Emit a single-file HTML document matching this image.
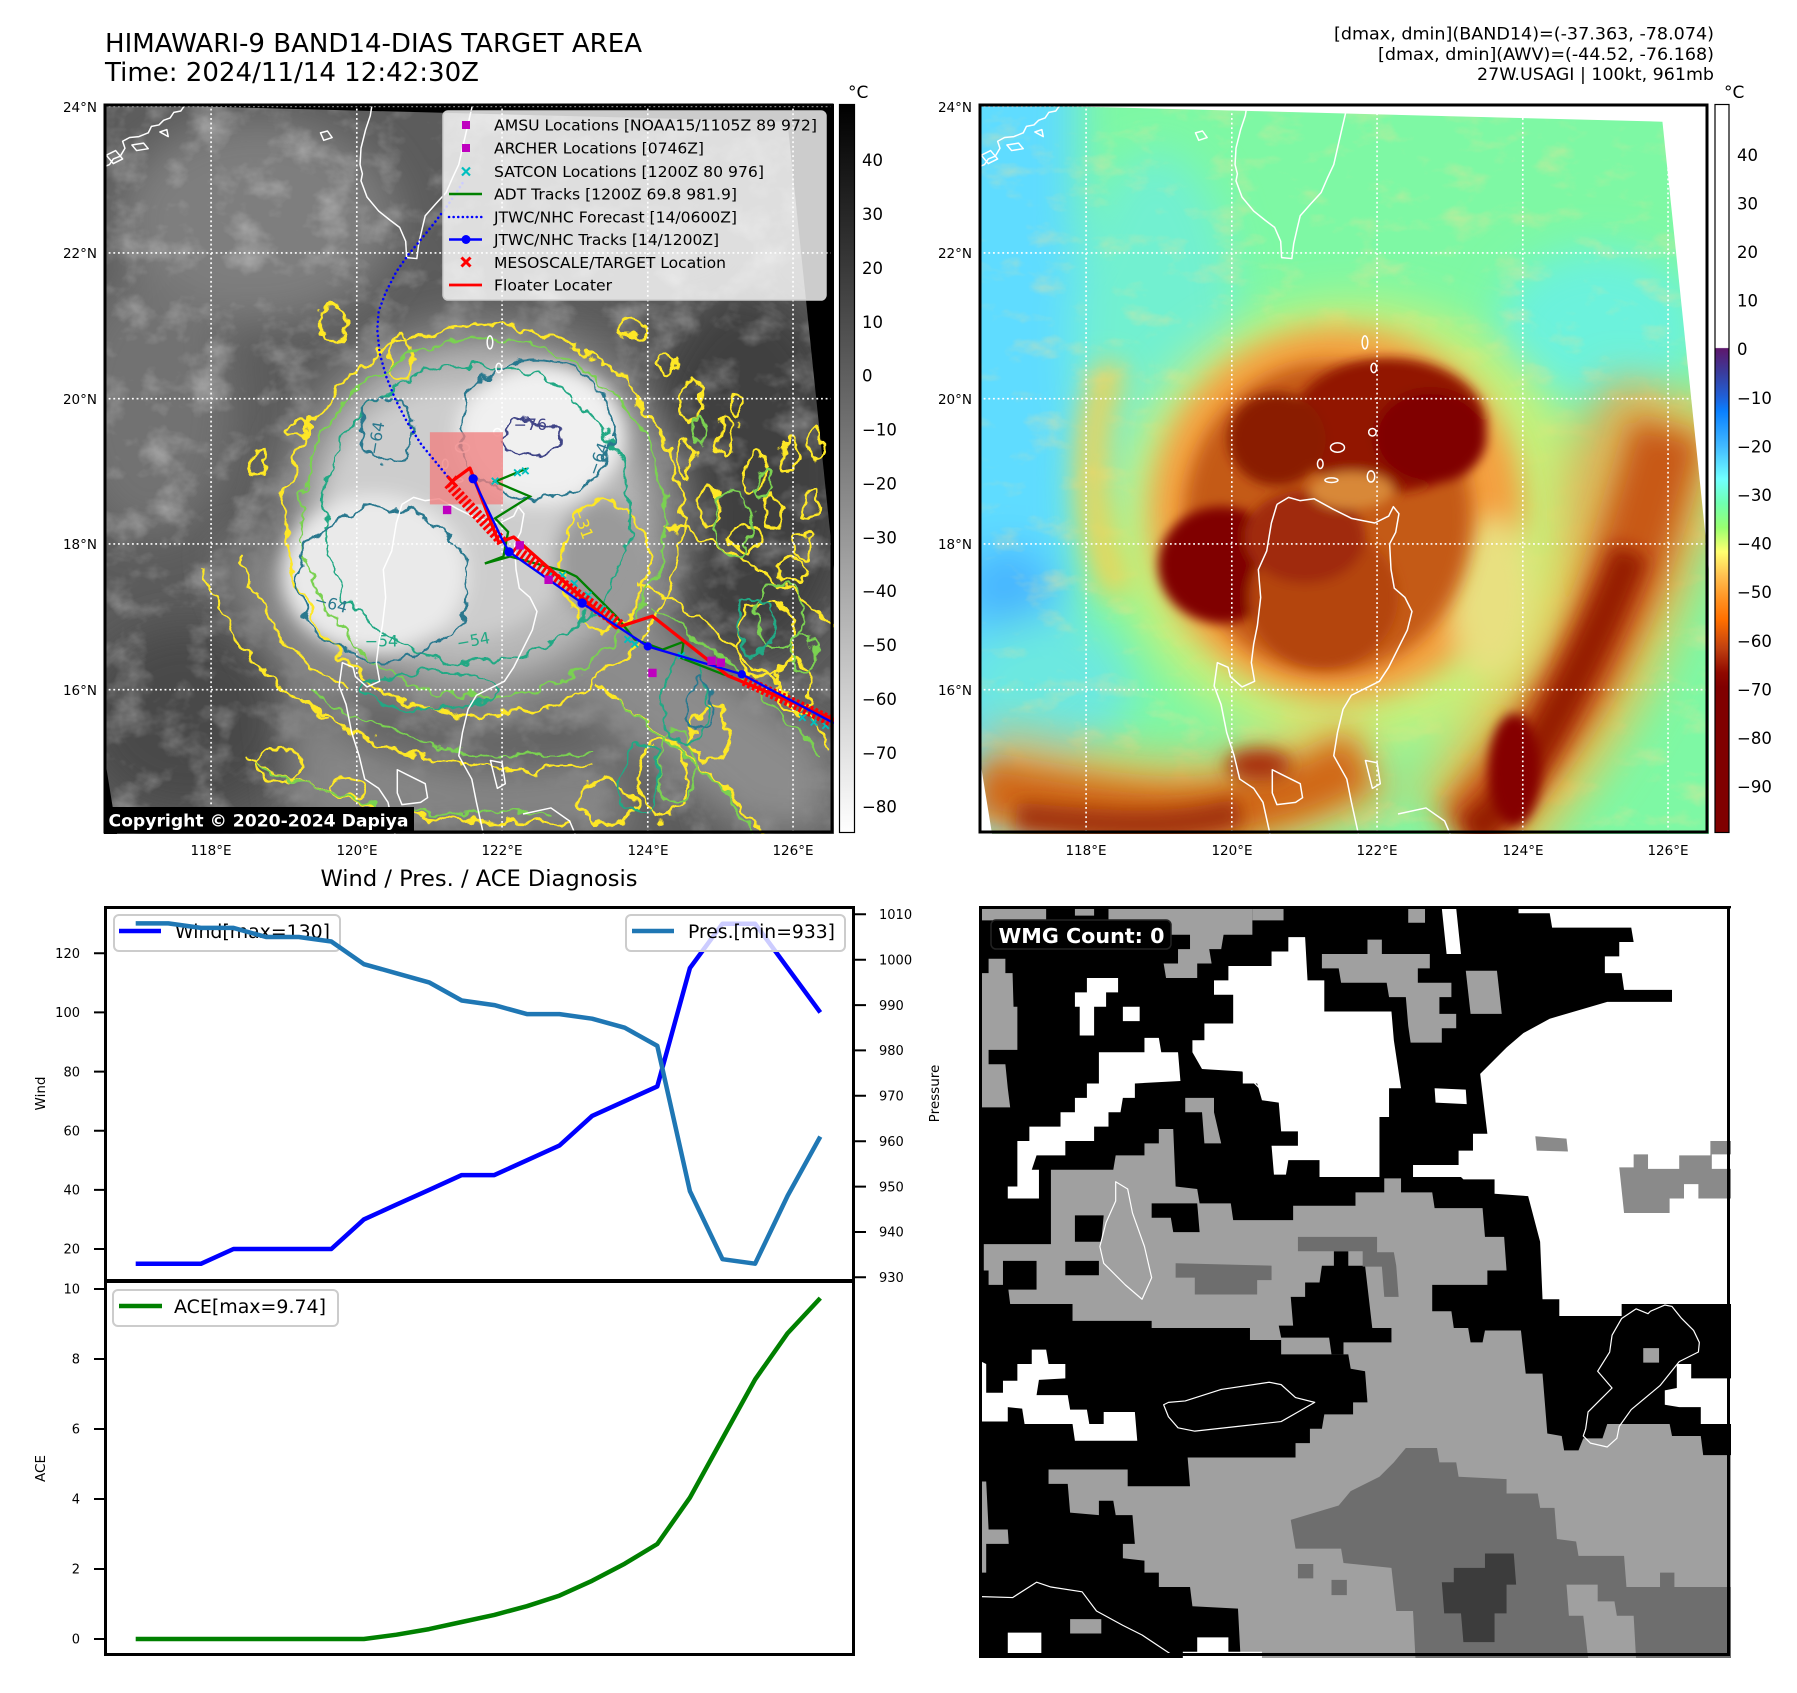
<!DOCTYPE html>
<html><head><meta charset="utf-8">
<style>
html,body{margin:0;padding:0;background:#fff;}
svg{display:block;}
text{font-family:"DejaVu Sans","Liberation Sans",sans-serif;}
</style></head><body>
<svg width="1797" height="1693" viewBox="0 0 1797 1693" xmlns="http://www.w3.org/2000/svg">
<defs>
 <filter id="b12" x="-50%" y="-50%" width="200%" height="200%"><feGaussianBlur stdDeviation="12"/></filter>
 <filter id="b20" x="-50%" y="-50%" width="200%" height="200%"><feGaussianBlur stdDeviation="20"/></filter>
 <filter id="b30" x="-50%" y="-50%" width="200%" height="200%"><feGaussianBlur stdDeviation="30"/></filter>
 <filter id="b45" x="-50%" y="-50%" width="200%" height="200%"><feGaussianBlur stdDeviation="45"/></filter>
 <filter id="wig" filterUnits="userSpaceOnUse" x="-100" y="-100" width="1768" height="1768">
  <feTurbulence type="fractalNoise" baseFrequency="0.022" numOctaves="3" seed="4" result="n"/>
  <feDisplacementMap in="SourceGraphic" in2="n" scale="46" xChannelSelector="R" yChannelSelector="G"/>
 </filter>
 <filter id="tex" filterUnits="userSpaceOnUse" x="0" y="0" width="1568" height="1568">
  <feTurbulence type="fractalNoise" baseFrequency="0.011 0.014" numOctaves="4" seed="17"/>
  <feColorMatrix type="matrix" values="0 0 0 0 1  0 0 0 0 1  0 0 0 0 1  2.4 0 0 0 -1.15"/>
 </filter>
 <filter id="tex2" filterUnits="userSpaceOnUse" x="0" y="0" width="1568" height="1568">
  <feTurbulence type="fractalNoise" baseFrequency="0.01 0.018" numOctaves="4" seed="23"/>
  <feColorMatrix type="matrix" values="0 0 0 0 0.95  0 0 0 0 0.75  0 0 0 0 0.3  2.6 0 0 0 -1.4"/>
 </filter>
 <linearGradient id="cbTL" x1="0" y1="0" x2="0" y2="1">
  <stop offset="0" stop-color="#000"/><stop offset="1" stop-color="#fff"/>
 </linearGradient>
 <linearGradient id="cbTR" x1="0" y1="0" x2="0" y2="1">
  <stop offset="0" stop-color="#ffffff"/>
  <stop offset="0.334" stop-color="#ffffff"/>
  <stop offset="0.3351" stop-color="#5e176c"/>
  <stop offset="0.3684" stop-color="#3a3c9c"/>
  <stop offset="0.4016" stop-color="#2060d8"/>
  <stop offset="0.4215" stop-color="#0a80ff"/>
  <stop offset="0.4681" stop-color="#40b8ff"/>
  <stop offset="0.5146" stop-color="#70ffff"/>
  <stop offset="0.5479" stop-color="#70ffb0"/>
  <stop offset="0.5811" stop-color="#98ff70"/>
  <stop offset="0.6144" stop-color="#ffff70"/>
  <stop offset="0.6476" stop-color="#ffc050"/>
  <stop offset="0.6809" stop-color="#ff9020"/>
  <stop offset="0.7074" stop-color="#ff7000"/>
  <stop offset="0.7473" stop-color="#c04010"/>
  <stop offset="0.7806" stop-color="#900800"/>
  <stop offset="0.8005" stop-color="#800000"/>
  <stop offset="1" stop-color="#800000"/>
 </linearGradient>
 <g id="coast" fill="none" stroke="#fff" stroke-width="3.2" stroke-linejoin="round">
  <path d="M576,0 L572,25 L562,55 L552,95 L550,130 L555,150 L552,165 L565,200 L590,230 L615,250 L635,265 L648,295 L650,330 L672,332 L676,300 L684,265 L690,240 L712,215 L735,190 L748,160 L762,130 L770,95 L778,60 L785,30 L792,0"/>
  <path d="M0,135 L12,130 L20,118 L35,112 L45,95 L40,80 L55,72 L75,70 L95,62 L102,48 L118,45 L128,35 L142,30 L150,18 L165,15 L172,5 L178,0"/>
  <path d="M5,110 L25,100 L40,118 L20,128 Z M60,88 L85,84 L95,96 L70,100 Z M465,62 L480,58 L490,72 L472,78 Z M120,60 L135,55 L138,70 Z"/>
  <path d="M640,860 L665,845 L690,852 L720,848 L760,870 L800,890 L850,900 L880,885 L890,865 L902,880 L895,920 L882,945 L885,1000 L892,1040 L915,1060 L930,1090 L920,1130 L900,1170 L880,1210 L860,1240 L830,1255 L800,1270 L782,1300 L770,1350 L762,1400 L790,1450 L800,1500 L815,1568"/>
  <path d="M640,860 L628,900 L618,960 L600,1000 L605,1060 L598,1120 L590,1160 L585,1200 L592,1240 L565,1252 L540,1230 L535,1210 L512,1200 L505,1250 L520,1290 L532,1350 L548,1400 L560,1450 L590,1470 L610,1500 L625,1568"/>
  <path d="M630,1430 L650,1440 L690,1460 L695,1490 L680,1500 L640,1505 L630,1480 Z M830,1410 L855,1415 L862,1460 L845,1470 Z M900,1525 L960,1512 L1000,1540 L1012,1568"/>
  <ellipse cx="829" cy="512" rx="6" ry="14"/><ellipse cx="848" cy="567" rx="6" ry="10"/>
  <ellipse cx="845" cy="705" rx="8" ry="8"/><ellipse cx="770" cy="738" rx="15" ry="10"/>
  <ellipse cx="733" cy="773" rx="6" ry="10"/><ellipse cx="757" cy="808" rx="14" ry="5"/>
  <ellipse cx="842" cy="800" rx="8" ry="12"/>
 </g>
 <g id="grid" fill="none" stroke="#fff" stroke-width="3.5" stroke-dasharray="4 6">
  <path d="M230,0 V1568 M543,0 V1568 M855,0 V1568 M1168,0 V1568 M1480,0 V1568 M0,5 H1568 M0,320 H1568 M0,633 H1568 M0,945 H1568 M0,1258 H1568"/>
 </g>
 <path id="cx" d="M-7,-7 L7,7 M-7,7 L7,-7" stroke="#00bfbf" stroke-width="4" fill="none"/>
</defs>

<!-- TITLES -->
<text x="105" y="52" font-size="25.8" textLength="537" lengthAdjust="spacingAndGlyphs">HIMAWARI-9 BAND14-DIAS TARGET AREA</text>
<text x="105" y="81" font-size="25.8" textLength="374" lengthAdjust="spacingAndGlyphs">Time: 2024/11/14 12:42:30Z</text>
<text x="1714" y="39.5" font-size="17" text-anchor="end" textLength="380" lengthAdjust="spacingAndGlyphs">[dmax, dmin](BAND14)=(-37.363, -78.074)</text>
<text x="1714" y="60" font-size="17" text-anchor="end" textLength="336" lengthAdjust="spacingAndGlyphs">[dmax, dmin](AWV)=(-44.52, -76.168)</text>
<text x="1714" y="80" font-size="17" text-anchor="end" textLength="237" lengthAdjust="spacingAndGlyphs">27W.USAGI | 100kt, 961mb</text>

<!-- ============ TL MAP ============ -->
<svg x="104" y="104" width="730" height="730" viewBox="0 0 1568 1568" preserveAspectRatio="none">
 <rect width="1568" height="1568" fill="#5c5c5c"/>
 <g filter="url(#b45)">
  <ellipse cx="330" cy="250" rx="300" ry="220" fill="#7e7e7e"/>
  <ellipse cx="100" cy="650" rx="180" ry="280" fill="#727272"/>
  <ellipse cx="1380" cy="800" rx="230" ry="400" fill="#404040"/>
  <ellipse cx="180" cy="1320" rx="230" ry="200" fill="#4a4a4a"/>
  <ellipse cx="1100" cy="250" rx="330" ry="180" fill="#5a5a5a"/>
  <ellipse cx="1450" cy="1460" rx="150" ry="150" fill="#555"/>
 </g>
 <rect width="1568" height="1568" filter="url(#tex)" opacity="0.32"/>
 <g filter="url(#b45)">
  <ellipse cx="815" cy="895" rx="440" ry="430" fill="#8f8f8f"/>
  <path d="M1100,1050 L1568,1380 L1568,1568 L1380,1568 L980,1260 Z" fill="#8c8c8c"/>
  <path d="M380,1260 C600,1430 850,1450 1080,1400 L1150,1568 L420,1568 Z" fill="#868686"/>
  <path d="M250,950 C300,1150 420,1280 520,1320 L560,1200 C450,1150 380,1050 360,950 Z" fill="#888"/>
 </g>
 <g filter="url(#b30)">
  <ellipse cx="800" cy="880" rx="360" ry="350" fill="#b8b8b8"/>
 </g>
 <g filter="url(#b20)">
  <ellipse cx="760" cy="880" rx="280" ry="270" fill="#cdcdcd"/>
  <ellipse cx="940" cy="710" rx="180" ry="150" fill="#f0f0f0"/>
  <ellipse cx="580" cy="1010" rx="200" ry="170" fill="#eaeaea"/>
  <ellipse cx="1070" cy="980" rx="100" ry="130" fill="#9a9a9a"/>
 </g>
 <path d="M0,0 L1568,0 L1568,1000 L1468,38 Z M0,1395 L28,1568 L0,1568 Z" fill="#000"/>
 <!-- contours -->
 <g filter="url(#wig)" fill="none" stroke-linejoin="round">
  <g stroke="#fde725" stroke-width="6">
   <ellipse cx="815" cy="895" rx="425" ry="420"/>
   <ellipse cx="1075" cy="990" rx="95" ry="135"/>
   <path d="M1150,1030 C1300,1100 1450,1250 1568,1380"/>
   <path d="M1060,1250 C1200,1350 1320,1450 1420,1568"/>
   <path d="M1200,900 C1350,950 1480,1050 1568,1120"/>
   <path d="M420,1280 C600,1420 850,1450 1050,1420"/>
   <path d="M300,1400 C500,1520 800,1560 1000,1540"/>
   <path d="M290,980 C330,1100 420,1200 520,1260"/>
   <path d="M210,1000 C260,1150 380,1260 480,1330"/>
   <ellipse cx="490" cy="470" rx="30" ry="40"/><ellipse cx="640" cy="540" rx="25" ry="50"/>
   <ellipse cx="420" cy="700" rx="25" ry="18"/><ellipse cx="1130" cy="480" rx="30" ry="20"/>
   <ellipse cx="1260" cy="640" rx="18" ry="50"/><ellipse cx="1330" cy="720" rx="16" ry="45"/>
   <ellipse cx="1400" cy="790" rx="18" ry="50"/><ellipse cx="1470" cy="760" rx="16" ry="40"/>
   <ellipse cx="1530" cy="730" rx="15" ry="35"/><ellipse cx="1300" cy="860" rx="22" ry="40"/>
   <ellipse cx="1380" cy="930" rx="30" ry="30"/><ellipse cx="1480" cy="1000" rx="30" ry="24"/>
   <ellipse cx="1250" cy="760" rx="14" ry="35"/><ellipse cx="1440" cy="880" rx="18" ry="35"/>
   <ellipse cx="1520" cy="860" rx="15" ry="30"/><ellipse cx="1360" cy="650" rx="14" ry="28"/>
   <ellipse cx="1210" cy="560" rx="16" ry="26"/><ellipse cx="1500" cy="950" rx="18" ry="22"/>
   <ellipse cx="1420" cy="1150" rx="60" ry="80"/><ellipse cx="1200" cy="1450" rx="50" ry="90"/>
   <ellipse cx="1300" cy="1350" rx="35" ry="60"/><ellipse cx="1480" cy="1250" rx="40" ry="50"/>
   <ellipse cx="380" cy="1420" rx="50" ry="35"/><ellipse cx="1080" cy="1500" rx="60" ry="50"/>
   <ellipse cx="330" cy="770" rx="18" ry="30"/><ellipse cx="520" cy="1470" rx="40" ry="22"/>
  </g>
  <g stroke="#7ad151" stroke-width="5">
   <ellipse cx="815" cy="890" rx="390" ry="385"/>
   <path d="M1170,1080 C1300,1150 1430,1280 1540,1400"/>
   <path d="M1100,1280 C1220,1370 1330,1460 1400,1568"/>
   <path d="M440,1250 C620,1390 850,1420 1040,1390"/>
   <path d="M330,1420 C520,1520 780,1540 960,1520"/>
   <ellipse cx="1350" cy="900" rx="40" ry="70"/><ellipse cx="1450" cy="1100" rx="50" ry="70"/>
   <ellipse cx="1230" cy="1420" rx="40" ry="80"/>
   <ellipse cx="1280" cy="700" rx="12" ry="30"/><ellipse cx="1420" cy="820" rx="14" ry="34"/>
   <ellipse cx="1500" cy="1180" rx="30" ry="40"/>
  </g>
  <g stroke="#22a884" stroke-width="5">
   <ellipse cx="800" cy="880" rx="330" ry="320"/>
   <ellipse cx="1250" cy="1280" rx="45" ry="100"/><ellipse cx="1400" cy="1120" rx="40" ry="60"/>
   <ellipse cx="1150" cy="1450" rx="40" ry="80"/><ellipse cx="700" cy="1260" rx="140" ry="40"/>
  </g>
  <g stroke="#2a788e" stroke-width="5">
   <ellipse cx="930" cy="700" rx="165" ry="150"/>
   <ellipse cx="600" cy="1030" rx="185" ry="165"/>
   <ellipse cx="610" cy="700" rx="60" ry="70"/>
   <ellipse cx="1280" cy="1290" rx="25" ry="60"/>
  </g>
  <g stroke="#414487" stroke-width="5">
   <ellipse cx="915" cy="720" rx="65" ry="40"/>
  </g>
 </g>
 <g font-size="34">
  <text x="880" y="700" fill="#414487">−76</text>
  <text x="590" y="755" fill="#2a788e" transform="rotate(-80 590 755)">−64</text>
  <text x="1060" y="800" fill="#2a788e" transform="rotate(-70 1060 800)">−64</text>
  <text x="450" y="1075" fill="#2a788e" transform="rotate(15 450 1075)">−64</text>
  <text x="560" y="1165" fill="#22a884">−54</text>
  <text x="760" y="1170" fill="#22a884" transform="rotate(-10 760 1170)">−54</text>
  <text x="1005" y="870" fill="#fde725" transform="rotate(70 1005 870)">−31</text>
 </g>
 <use href="#coast"/>
 <use href="#grid"/>
 <rect x="700" y="705" width="157" height="155" fill="#f08080" opacity="0.78"/>
 <path d="M770,170 L740,215 L710,255 L680,292 L655,322 L628,360 L605,405 L590,445 L587,485 L592,535 L606,585 L626,635 L652,685 L682,732 L715,772 L742,805" fill="none" stroke="#0000ff" stroke-width="5.5" stroke-dasharray="0.1 10" stroke-linecap="round"/>
 <path d="M908,783 L840,811 L915,843 L840,890 L868,919 L858,972 L818,987 L872,972 L994,1005 L1015,1015 L1100,1100 L1140,1150 L1200,1172 L1245,1155 L1240,1190 L1330,1225 L1350,1230" fill="none" stroke="#008000" stroke-width="5"/>
 <g>
  <use href="#cx" x="905" y="788"/><use href="#cx" x="888" y="792"/><use href="#cx" x="840" y="810"/>
  <use href="#cx" x="960" y="1008"/><use href="#cx" x="985" y="1012"/><use href="#cx" x="1010" y="1030"/>
  <use href="#cx" x="1040" y="1055"/><use href="#cx" x="1070" y="1085"/><use href="#cx" x="1095" y="1110"/>
  <use href="#cx" x="1125" y="1150"/><use href="#cx" x="1140" y="1160"/><use href="#cx" x="1240" y="1185"/>
  <use href="#cx" x="1500" y="1318"/><use href="#cx" x="1525" y="1328"/><use href="#cx" x="1550" y="1335"/>
 </g>
 <g fill="none" stroke="#ff0000" stroke-width="24" stroke-dasharray="6 5">
  <path d="M740,815 L855,940"/>
  <path d="M880,955 L1110,1120"/>
  <path d="M1375,1238 L1568,1328"/>
 </g>
 <path d="M745,812 L786,782 L848,942 L880,930 L1100,1125 L1178,1100 L1340,1228 L1568,1322" fill="none" stroke="#ff0000" stroke-width="7" stroke-linejoin="round"/>
 <path d="M738,800 L758,822 M738,822 L758,800" stroke="#ff0000" stroke-width="7"/>
 <path d="M793,805 L855,935 L870,962 L1027,1072 L1168,1165 L1370,1225 L1568,1330" fill="none" stroke="#0000ff" stroke-width="5"/>
 <g fill="#0000ff">
  <circle cx="793" cy="805" r="10"/><circle cx="870" cy="962" r="10"/><circle cx="1027" cy="1072" r="10"/>
  <circle cx="1168" cy="1165" r="9"/><circle cx="1370" cy="1225" r="9"/>
 </g>
 <g fill="#bf00bf">
  <rect x="728" y="863" width="18" height="18"/><rect x="884" y="939" width="18" height="18"/>
  <rect x="946" y="1013" width="18" height="18"/><rect x="1169" y="1213" width="18" height="18"/>
  <rect x="1296" y="1187" width="18" height="18"/><rect x="1316" y="1191" width="18" height="18"/>
 </g>
</svg>
<rect x="105" y="105" width="727" height="727" fill="none" stroke="#000" stroke-width="3"/>
<!-- legend -->
<rect x="443" y="111" width="383" height="189" rx="5" fill="#fff" fill-opacity="0.8" stroke="#cccccc" stroke-width="1.5"/>
<rect x="462" y="121" width="8" height="8" fill="#bf00bf"/>
<rect x="462" y="144" width="8" height="8" fill="#bf00bf"/>
<path d="M462,167.5 L470,175.5 M462,175.5 L470,167.5" stroke="#00bfbf" stroke-width="2.2"/>
<line x1="449" y1="194" x2="482" y2="194" stroke="#008000" stroke-width="2.5"/>
<line x1="449" y1="217" x2="482" y2="217" stroke="#0000ff" stroke-width="2.5" stroke-dasharray="0.1 4.5" stroke-linecap="round"/>
<line x1="449" y1="239.5" x2="482" y2="239.5" stroke="#0000ff" stroke-width="2.5"/>
<circle cx="466" cy="239.5" r="4.5" fill="#0000ff"/>
<path d="M461.5,257.5 L470.5,266.5 M461.5,266.5 L470.5,257.5" stroke="#ff0000" stroke-width="3"/>
<line x1="449" y1="285" x2="482" y2="285" stroke="#ff0000" stroke-width="2.8"/>
<g font-size="15.3" fill="#000">
 <text x="494" y="130.5" textLength="323" lengthAdjust="spacingAndGlyphs">AMSU Locations [NOAA15/1105Z 89 972]</text>
 <text x="494" y="153.7" textLength="210" lengthAdjust="spacingAndGlyphs">ARCHER Locations [0746Z]</text>
 <text x="494" y="177" textLength="270" lengthAdjust="spacingAndGlyphs">SATCON Locations [1200Z 80 976]</text>
 <text x="494" y="199.4" textLength="243" lengthAdjust="spacingAndGlyphs">ADT Tracks [1200Z 69.8 981.9]</text>
 <text x="494" y="222.6" textLength="243" lengthAdjust="spacingAndGlyphs">JTWC/NHC Forecast [14/0600Z]</text>
 <text x="494" y="245" textLength="225" lengthAdjust="spacingAndGlyphs">JTWC/NHC Tracks [14/1200Z]</text>
 <text x="494" y="267.8" textLength="232" lengthAdjust="spacingAndGlyphs">MESOSCALE/TARGET Location</text>
 <text x="494" y="290.6" textLength="118" lengthAdjust="spacingAndGlyphs">Floater Locater</text>
</g>
<rect x="104" y="807" width="310" height="26" fill="#000"/>
<text x="108.5" y="826.5" font-size="17.2" font-weight="bold" fill="#fff" textLength="300" lengthAdjust="spacingAndGlyphs">Copyright © 2020-2024 Dapiya</text>

<!-- TL colorbar -->
<rect x="839.5" y="104.5" width="15" height="728" fill="url(#cbTL)" stroke="#000" stroke-width="1.2"/>
<text x="848" y="98" font-size="17">°C</text>
<g font-size="16.5">
 <text x="862" y="166.2">40</text><text x="862" y="220.1">30</text><text x="862" y="274">20</text>
 <text x="862" y="327.8">10</text><text x="862" y="381.7">0</text><text x="862" y="435.6">−10</text>
 <text x="862" y="489.5">−20</text><text x="862" y="543.3">−30</text><text x="862" y="597.2">−40</text>
 <text x="862" y="651.1">−50</text><text x="862" y="705">−60</text><text x="862" y="758.8">−70</text>
 <text x="862" y="812.7">−80</text>
</g>
<!-- lat/lon labels -->
<g font-size="13.5" text-anchor="end">
 <text x="97" y="112">24°N</text><text x="97" y="258">22°N</text><text x="97" y="404">20°N</text>
 <text x="97" y="549">18°N</text><text x="97" y="695">16°N</text>
 <text x="972" y="112">24°N</text><text x="972" y="258">22°N</text><text x="972" y="404">20°N</text>
 <text x="972" y="549">18°N</text><text x="972" y="695">16°N</text>
</g>
<g font-size="13.5" text-anchor="middle">
 <text x="211" y="855">118°E</text><text x="357" y="855">120°E</text><text x="502" y="855">122°E</text>
 <text x="648" y="855">124°E</text><text x="793" y="855">126°E</text>
 <text x="1086" y="855">118°E</text><text x="1232" y="855">120°E</text><text x="1377" y="855">122°E</text>
 <text x="1523" y="855">124°E</text><text x="1668" y="855">126°E</text>
</g>

<!-- ============ TR MAP ============ -->
<svg x="979" y="104" width="730" height="730" viewBox="0 0 1568 1568" preserveAspectRatio="none">
 <rect width="1568" height="1568" fill="#7ef8a4"/>
 <g filter="url(#b45)">
  <rect x="-150" y="-100" width="360" height="1700" fill="#5fdcff"/>
  <ellipse cx="380" cy="520" rx="180" ry="420" fill="#72f0d0"/>
  <ellipse cx="1330" cy="480" rx="220" ry="170" fill="#6cf2dc"/>
  <ellipse cx="60" cy="1040" rx="100" ry="90" fill="#46b4ff"/>
  <ellipse cx="150" cy="1250" rx="180" ry="150" fill="#6ce8e0"/>
 </g>
 <rect width="1568" height="1568" filter="url(#tex2)" opacity="0.4"/>
 <g filter="url(#b45)">
  <ellipse cx="800" cy="900" rx="510" ry="480" fill="#d8ee70" opacity="0.8"/>
  <path d="M1500,620 C1450,800 1400,1000 1330,1150 S1150,1450 1030,1568" fill="none" stroke="#f0c050" stroke-width="300" opacity="0.8"/>
  <path d="M0,1440 C200,1480 400,1540 560,1500 S760,1450 850,1400" fill="none" stroke="#f0b050" stroke-width="220" opacity="0.8"/>
  <ellipse cx="1400" cy="850" rx="150" ry="250" fill="#e0a050" opacity="0.6"/>
 </g>
 <g filter="url(#b30)">
  <ellipse cx="770" cy="880" rx="400" ry="400" fill="#f4a040"/>
  <path d="M1480,700 C1430,880 1390,1020 1330,1150 S1150,1450 1040,1568" fill="none" stroke="#c85818" stroke-width="150"/>
  <path d="M0,1470 C200,1500 400,1550 560,1510 S740,1450 820,1410" fill="none" stroke="#d06818" stroke-width="120"/>
  <path d="M290,560 C220,700 230,900 300,1050" fill="none" stroke="#f8d050" stroke-width="60"/>
  <ellipse cx="1100" cy="1060" rx="90" ry="170" fill="#e8e080"/>
 </g>
 <g filter="url(#b20)">
  <ellipse cx="750" cy="890" rx="310" ry="335" fill="#c45a18"/>
  <path d="M1400,960 C1340,1120 1260,1280 1190,1400 S1090,1540 1050,1568" fill="none" stroke="#951c04" stroke-width="80"/>
  <path d="M80,1530 C250,1545 400,1565 560,1520" fill="none" stroke="#a03010" stroke-width="60"/>
  <ellipse cx="600" cy="1420" rx="70" ry="35" fill="#a83010"/>
 </g>
 <g filter="url(#b12)">
  <ellipse cx="880" cy="690" rx="210" ry="145" fill="#921800"/>
  <ellipse cx="970" cy="715" rx="120" ry="100" fill="#800000"/>
  <ellipse cx="640" cy="720" rx="105" ry="100" fill="#8a1a00"/>
  <ellipse cx="520" cy="990" rx="135" ry="125" fill="#800000"/>
  <ellipse cx="740" cy="1060" rx="160" ry="150" fill="#b44410"/>
  <ellipse cx="700" cy="930" rx="130" ry="100" fill="#a02c08"/>
  <ellipse cx="800" cy="830" rx="90" ry="40" fill="#d88838"/>
  <ellipse cx="1150" cy="1430" rx="55" ry="120" fill="#850400"/>
 </g>
 <path d="M0,0 L1568,0 L1568,1000 L1468,38 Z M0,1395 L28,1568 L0,1568 Z" fill="#fff"/>
 <use href="#coast"/>
 <use href="#grid"/>
</svg>
<rect x="980" y="105" width="727" height="727" fill="none" stroke="#000" stroke-width="3"/>
<rect x="1715" y="104.5" width="14" height="728" fill="url(#cbTR)" stroke="#000" stroke-width="1.2"/>
<text x="1724" y="98" font-size="17">°C</text>
<g font-size="16.5">
 <text x="1737" y="160.8">40</text><text x="1737" y="209.4">30</text><text x="1737" y="258">20</text>
 <text x="1737" y="306.6">10</text><text x="1737" y="355.2">0</text><text x="1737" y="403.8">−10</text>
 <text x="1737" y="452.4">−20</text><text x="1737" y="501">−30</text><text x="1737" y="549.6">−40</text>
 <text x="1737" y="598.2">−50</text><text x="1737" y="646.8">−60</text><text x="1737" y="695.4">−70</text>
 <text x="1737" y="744">−80</text><text x="1737" y="792.6">−90</text>
</g>

<!-- ============ CHART ============ -->
<text x="479" y="886" font-size="22.4" text-anchor="middle" textLength="317" lengthAdjust="spacingAndGlyphs">Wind / Pres. / ACE Diagnosis</text>
<polyline fill="none" stroke="#0000ff" stroke-width="4.5" stroke-linejoin="round" points="135.7,1263.8 168.3,1263.8 200.9,1263.8 233.5,1249 266.1,1249 298.7,1249 331.3,1249 363.9,1219.4 396.5,1204.6 429.1,1189.9 461.7,1175.1 494.3,1175.1 526.9,1160.3 559.5,1145.5 592.1,1115.9 624.7,1101.2 657.3,1086.4 689.9,968.1 722.5,923.7 755.1,923.7 787.7,968.1 820.3,1012.4"/>
<rect x="114" y="915" width="226" height="36" rx="5" fill="#fff" fill-opacity="0.8" stroke="#cccccc" stroke-width="2"/>
<line x1="119" y1="931" x2="161" y2="931" stroke="#0000ff" stroke-width="4.5"/>
<text x="175" y="938" font-size="18.5" textLength="155" lengthAdjust="spacingAndGlyphs">Wind[max=130]</text>
<polyline fill="none" stroke="#1f77b4" stroke-width="4.5" stroke-linejoin="round" points="135.7,923.4 168.3,923.4 200.9,927.9 233.5,927.9 266.1,937 298.7,937 331.3,941.5 363.9,964.2 396.5,973.3 429.1,982.4 461.7,1000.5 494.3,1005.1 526.9,1014.1 559.5,1014.1 592.1,1018.7 624.7,1027.7 657.3,1045.9 689.9,1191.1 722.5,1259.2 755.1,1263.7 787.7,1195.6 820.3,1136.6"/>
<rect x="626" y="915" width="219" height="36" rx="5" fill="#fff" fill-opacity="0.8" stroke="#cccccc" stroke-width="2"/>
<line x1="632" y1="931" x2="674" y2="931" stroke="#1f77b4" stroke-width="4.5"/>
<text x="688" y="938" font-size="18.5" textLength="147" lengthAdjust="spacingAndGlyphs">Pres.[min=933]</text>
<polyline fill="none" stroke="#008000" stroke-width="4.5" stroke-linejoin="round" points="135.7,1639 168.3,1639 200.9,1639 233.5,1639 266.1,1639 298.7,1639 331.3,1639 363.9,1639 396.5,1634.7 429.1,1629.1 461.7,1622 494.3,1614.9 526.9,1606.2 559.5,1595.6 592.1,1580.8 624.7,1563.7 657.3,1544 689.9,1497.7 722.5,1438.5 755.1,1379.4 787.7,1333.1 820.3,1298.1"/>
<rect x="113" y="1290" width="225" height="36" rx="5" fill="#fff" fill-opacity="0.8" stroke="#cccccc" stroke-width="2"/>
<line x1="119" y1="1306" x2="162" y2="1306" stroke="#008000" stroke-width="4.5"/>
<text x="174" y="1313" font-size="18.5" textLength="152" lengthAdjust="spacingAndGlyphs">ACE[max=9.74]</text>
<rect x="105.5" y="907.5" width="748" height="373" fill="none" stroke="#000" stroke-width="3"/>
<rect x="105.5" y="1281.5" width="748" height="373" fill="none" stroke="#000" stroke-width="3"/>
<g stroke="#000" stroke-width="2">
 <path d="M94,1249 H104 M94,1189.9 H104 M94,1130.7 H104 M94,1071.6 H104 M94,1012.4 H104 M94,953.3 H104"/>
 <path d="M94,1639 H104 M94,1569 H104 M94,1499 H104 M94,1429 H104 M94,1359 H104 M94,1289 H104"/>
 <path d="M855,914.3 H866 M855,959.7 H866 M855,1005.1 H866 M855,1050.4 H866 M855,1095.8 H866 M855,1141.2 H866 M855,1186.6 H866 M855,1232 H866 M855,1277.3 H866"/>
</g>
<g font-size="13" text-anchor="end">
 <text x="80" y="1253.7">20</text><text x="80" y="1194.6">40</text><text x="80" y="1135.4">60</text>
 <text x="80" y="1076.3">80</text><text x="80" y="1017.1">100</text><text x="80" y="958">120</text>
 <text x="80" y="1643.7">0</text><text x="80" y="1573.7">2</text><text x="80" y="1503.7">4</text>
 <text x="80" y="1433.7">6</text><text x="80" y="1363.7">8</text><text x="80" y="1293.7">10</text>
</g>
<g font-size="13">
 <text x="879" y="919">1010</text><text x="879" y="964.4">1000</text><text x="879" y="1009.8">990</text>
 <text x="879" y="1055.1">980</text><text x="879" y="1100.5">970</text><text x="879" y="1145.9">960</text>
 <text x="879" y="1191.3">950</text><text x="879" y="1236.7">940</text><text x="879" y="1282">930</text>
</g>
<g font-size="13.5" text-anchor="middle">
 <text transform="translate(45 1093.5) rotate(-90)">Wind</text>
 <text transform="translate(45 1468.5) rotate(-90)">ACE</text>
 <text transform="translate(939 1093.5) rotate(-90)">Pressure</text>
</g>

<!-- ============ WMG ============ -->
<svg x="979" y="906" width="752" height="752" viewBox="0 0 1568 1568" preserveAspectRatio="none">
 <rect width="1568" height="1568" fill="#000"/>
 <g fill="#a0a0a0">
  <path d="M0,0 L140,0 L140,30 L0,30 Z"/>
  <path d="M5,140 L20,140 L20,110 L55,110 L55,140 L70,140 L72,210 L80,210 L80,300 L20,300 L20,330 L55,330 L60,380 L65,420 L5,420 Z"/>
  <path d="M200,5 L240,5 L240,20 L200,20 Z M570,5 L635,5 L635,30 L570,30 Z M895,5 L930,5 L930,35 L895,35 Z"/>
  <path d="M270,5 L570,5 L570,60 L510,60 L505,90 L480,90 L485,120 L455,120 L455,150 L390,150 L385,120 L415,120 L415,90 L440,90 L440,60 L270,60 Z"/>
  <path d="M715,100 L810,100 L810,70 L840,70 L840,100 L940,100 L940,130 L915,130 L915,160 L985,160 L985,190 L960,190 L960,225 L995,225 L995,255 L965,255 L965,285 L900,285 L895,250 L890,190 L855,190 L850,160 L755,160 L750,130 L715,130 Z"/>
  <path d="M1015,135 L1080,135 L1090,225 L1025,225 Z"/>
  <path d="M430,400 L490,400 L490,430 L505,495 L470,495 L465,430 L430,430 Z"/>
  <path d="M10,705 L150,705 L150,550 L280,550 L285,520 L345,520 L345,495 L375,495 L375,465 L405,465 L410,585 L455,590 L460,620 L525,620 L530,655 L655,655 L655,625 L785,625 L785,597 L845,597 L845,568 L880,568 L880,597 L945,597 L950,630 L1050,630 L1055,690 L1095,690 L1100,760 L1060,760 L1060,790 L945,790 L945,845 L985,845 L990,880 L1020,880 L1025,910 L1050,910 L1055,885 L1130,885 L1140,975 L1175,975 L1185,1100 L1215,1105 L1220,1135 L1250,1135 L1260,1110 L1300,1110 L1310,1080 L1440,1080 L1445,1105 L1505,1105 L1510,1145 L1568,1145 L1568,1568 L590,1568 L545,1560 L540,1465 L445,1460 L440,1420 L375,1420 L375,1390 L345,1390 L345,1365 L300,1360 L300,1330 L325,1330 L320,1270 L285,1270 L280,1240 L250,1240 L250,1270 L190,1265 L185,1205 L145,1205 L145,1175 L310,1175 L310,1210 L440,1210 L435,1150 L660,1150 L660,1120 L690,1120 L690,1090 L715,1090 L720,1060 L780,1060 L780,1035 L810,1035 L805,970 L775,965 L770,935 L630,935 L630,905 L565,905 L565,880 L360,880 L360,865 L195,865 L195,830 L65,830 L60,790 L20,790 L20,760 L10,760 Z"/>
  <path d="M0,1200 L15,1200 L20,1300 L60,1300 L62,1330 L15,1330 L15,1390 L0,1390 Z M190,1487 L255,1487 L255,1517 L190,1517 Z M1385,922 L1418,922 L1418,952 L1385,952 Z"/>
 </g>
 <g fill="#000">
  <path d="M50,740 L120,740 L120,800 L50,800 Z M180,740 L250,740 L250,770 L180,770 Z M200,645 L260,645 L255,700 L200,700 Z"/>
  <path d="M360,620 L455,620 L460,680 L405,680 L400,650 L360,650 Z"/>
  <path d="M740,720 L770,720 L770,750 L805,750 L820,880 L860,880 L860,910 L760,910 L760,935 L735,935 L730,900 L630,900 L625,875 L655,875 L650,815 L680,815 L680,785 L710,785 L715,750 L740,750 Z"/>
 </g>
 <g fill="#6e6e6e">
  <path d="M665,690 L830,690 L830,722 L865,722 L870,750 L875,815 L845,815 L840,752 L800,752 L800,720 L665,720 Z"/>
  <path d="M410,745 L610,750 L610,780 L580,780 L580,810 L450,810 L450,775 L410,775 Z"/>
  <path d="M650,1280 L750,1250 L775,1220 L835,1190 L865,1160 L890,1130 L955,1130 L960,1160 L995,1160 L1000,1190 L1100,1195 L1100,1225 L1165,1225 L1170,1255 L1200,1255 L1205,1320 L1245,1325 L1250,1355 L1345,1355 L1350,1420 L1420,1420 L1420,1390 L1450,1390 L1450,1420 L1568,1420 L1568,1568 L1370,1568 L1365,1480 L1330,1480 L1325,1450 L1290,1450 L1290,1415 L1225,1415 L1230,1480 L1260,1480 L1270,1568 L910,1568 L905,1470 L870,1470 L860,1380 L760,1370 L755,1340 L660,1340 Z"/>
  <path d="M665,1372 L697,1372 L697,1402 L665,1402 Z M735,1405 L767,1405 L767,1437 L735,1437 Z"/>
 </g>
 <path fill="#3c3c3c" d="M990,1380 L1055,1380 L1055,1350 L1115,1350 L1120,1415 L1100,1415 L1100,1475 L1075,1475 L1075,1535 L1010,1535 L1005,1475 L970,1475 L965,1410 L990,1410 Z"/>
 <g fill="#fff">
  <path d="M490,155 L520,155 L520,125 L610,125 L610,95 L645,95 L645,65 L680,65 L685,155 L720,155 L720,220 L860,220 L865,280 L880,380 L855,380 L855,440 L835,440 L835,565 L710,565 L710,530 L645,530 L640,560 L615,560 L610,500 L665,500 L665,470 L630,470 L625,410 L590,405 L580,370 L550,370 L550,345 L465,340 L445,305 L445,280 L470,280 L470,245 L530,245 L530,185 L490,185 Z"/>
  <path d="M1125,5 L1568,5 L1568,830 L1340,830 L1340,855 L1210,855 L1210,820 L1175,820 L1170,700 L1145,605 L1075,600 L1075,570 L1010,570 L1005,565 L905,565 L905,540 L1000,540 L1000,510 L1030,510 L1030,475 L1060,475 L1045,350 L1075,320 L1100,295 L1135,265 L1190,235 L1310,200 L1445,200 L1445,175 L1345,175 L1340,140 L1305,140 L1305,105 L1335,105 L1335,75 L1365,75 L1360,45 L1195,45 L1190,15 L1125,15 Z"/>
  <path d="M60,585 L80,585 L80,490 L105,490 L105,460 L170,460 L170,430 L200,430 L200,400 L225,400 L225,370 L250,370 L250,305 L345,305 L345,275 L375,275 L380,305 L415,305 L420,365 L325,370 L325,400 L300,400 L295,430 L270,430 L270,460 L240,460 L240,490 L180,490 L180,520 L120,520 L110,550 L125,550 L125,610 L60,610 Z"/>
  <path d="M225,150 L290,150 L290,180 L265,180 L265,210 L240,210 L240,270 L210,270 L210,210 L200,210 L200,180 L225,180 Z"/>
  <path d="M300,210 L335,210 L335,240 L300,240 Z M965,5 L995,5 L1005,100 L975,100 Z M950,380 L1015,383 L1017,413 L952,410 Z"/>
  <path d="M5,950 L15,955 L15,1015 L50,1015 L50,990 L80,990 L80,955 L110,955 L110,925 L140,925 L145,955 L180,955 L180,985 L125,988 L120,1020 L185,1020 L190,1050 L225,1050 L230,1080 L260,1080 L260,1055 L325,1055 L330,1115 L200,1115 L195,1080 L95,1080 L90,1048 L60,1045 L60,1075 L5,1075 Z"/>
  <path d="M1455,955 L1485,955 L1485,985 L1568,985 L1568,1080 L1505,1080 L1505,1045 L1460,1045 L1430,1040 L1430,1010 L1455,1005 Z"/>
  <path d="M60,1515 L130,1515 L130,1560 L60,1560 Z M455,1525 L520,1525 L520,1560 L455,1560 Z M425,1555 L590,1555 L590,1568 L425,1568 Z"/>
 </g>
 <g fill="#8a8a8a">
  <path d="M1160,480 L1225,485 L1228,512 L1163,510 Z"/>
  <path d="M1335,545 L1365,545 L1365,518 L1395,518 L1395,548 L1460,548 L1460,520 L1525,520 L1525,490 L1568,490 L1568,610 L1500,610 L1500,580 L1470,580 L1470,610 L1440,610 L1440,640 L1345,640 Z"/>
 </g>
 <path fill="#fff" d="M1528,518 L1568,518 L1568,548 L1528,548 Z"/>
 <g fill="none" stroke="#fff" stroke-width="2.5" stroke-linejoin="round">
  <path d="M285,575 L310,590 L320,640 L345,710 L360,775 L340,820 L305,790 L260,745 L252,710 L265,660 L285,615 Z"/>
  <path d="M385,1040 L395,1035 L430,1032 L505,1008 L605,993 L630,998 L660,1025 L700,1035 L665,1055 L630,1075 L540,1085 L450,1095 L415,1088 L395,1065 Z"/>
  <path d="M1260,1105 L1275,1120 L1310,1128 L1330,1110 L1335,1085 L1360,1050 L1420,1000 L1460,950 L1500,930 L1502,910 L1490,885 L1465,860 L1445,835 L1430,832 L1400,845 L1395,850 L1370,840 L1340,860 L1320,895 L1315,930 L1290,970 L1320,1005 L1295,1030 L1270,1055 L1265,1090 Z"/>
  <path d="M5,1440 L70,1442 L120,1410 L150,1420 L215,1430 L245,1470 L300,1500 L340,1520 L400,1560"/>
  <path d="M550,345 L585,380"/>
 </g>
</svg>
<rect x="980.5" y="907.5" width="748" height="747" fill="none" stroke="#000" stroke-width="3"/>
<rect x="991" y="920" width="180" height="29" rx="5" fill="#000" stroke="#222" stroke-width="1.5"/>
<text x="998.5" y="943" font-size="20.7" font-weight="bold" fill="#fff" textLength="166" lengthAdjust="spacingAndGlyphs">WMG Count: 0</text>
</svg>
</body></html>
